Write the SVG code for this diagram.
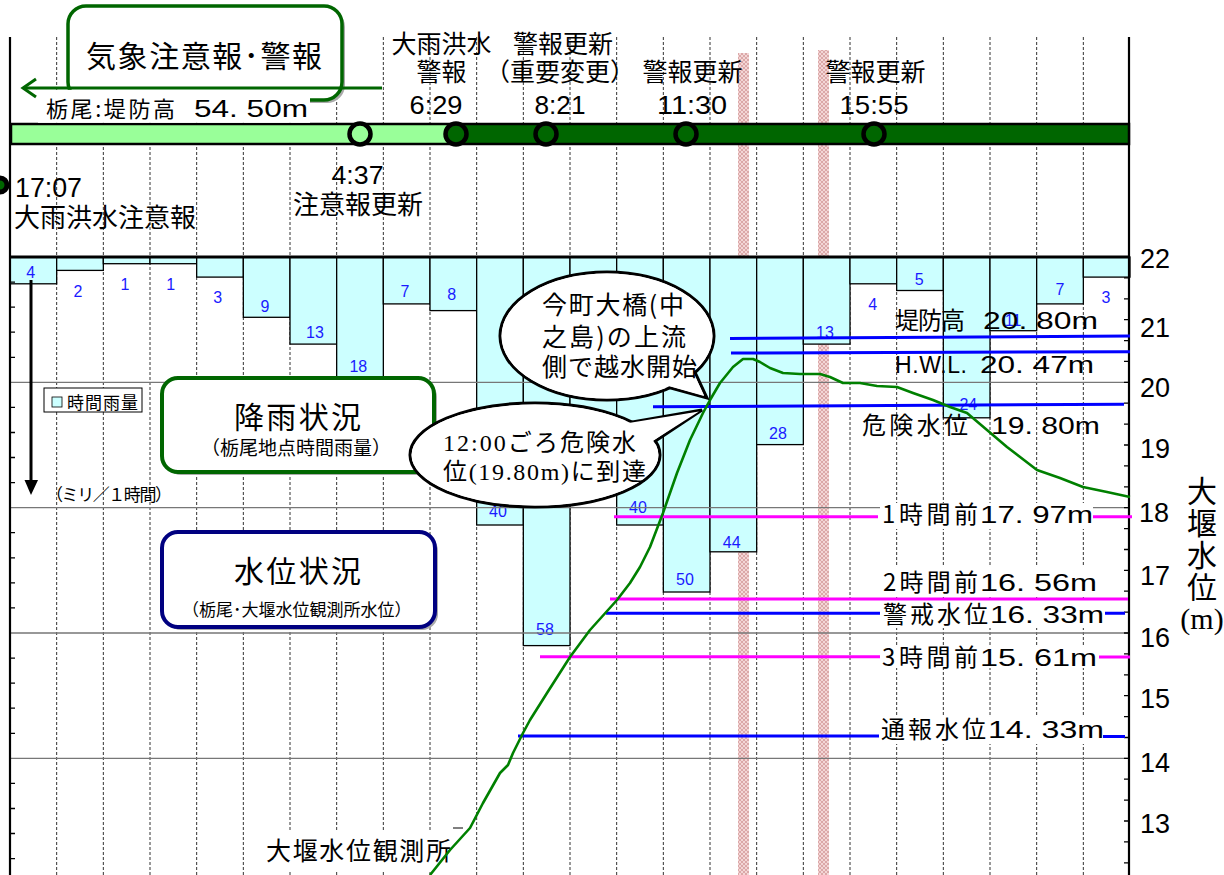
<svg xmlns="http://www.w3.org/2000/svg" width="1224" height="875" viewBox="0 0 1224 875">
<defs>
<pattern id="hatch" width="4" height="4" patternUnits="userSpaceOnUse"><rect width="4" height="4" fill="#F3D6D6"/><path d="M0 0L4 4M4 0L0 4" stroke="#D49C9C" stroke-width="0.8"/></pattern>
<style>
.jp{font-family:"Noto Sans CJK JP","Noto Sans CJK SC",sans-serif;fill:#000}
.ls{font-family:"Liberation Sans","Noto Sans CJK JP",sans-serif;fill:#000}
.sr{font-family:"Liberation Serif","Noto Sans CJK JP",serif;fill:#000}
.bar{fill:#CCFFFF;stroke:#000;stroke-width:1.3}
.bl{font-family:"Liberation Sans",sans-serif;font-size:16px;fill:#1a1aff;text-anchor:middle}
.mid{text-anchor:middle}
.ev{font-size:25px}
.tm{font-size:25px}
.co{fill:#fff;stroke:#000;stroke-width:3}
.blue{stroke:#0000FF;stroke-width:3;fill:none}
.mag{stroke:#FF00FF;stroke-width:3;fill:none}
.lk{font-family:"Noto Sans CJK JP","Noto Sans CJK SC",sans-serif;font-size:24px;fill:#000}
.ln{font-family:"Liberation Sans","Noto Sans CJK JP",sans-serif;font-size:23px;fill:#000}
.rax{font-size:27px}
.wbg{fill:#fff}
</style>
</defs>
<rect width="1224" height="875" fill="#fff"/>

<g id="bands">
<rect x="738" y="53" width="11" height="822" fill="url(#hatch)"/>
<rect x="818" y="50" width="11" height="825" fill="url(#hatch)"/>
</g>

<g id="vgrid" stroke="#333" stroke-width="1" stroke-dasharray="3 2" fill="none">
<path d="M56.67 37V875M103.33 37V875M150 37V875M196.67 37V875M243.33 37V875M290 37V875M336.67 37V875M383.33 37V875M430 37V875M476.67 37V875M523.33 37V875M570 37V875M616.67 37V875M663.33 37V875M710 37V875M756.67 37V875M803.33 37V875M850 37V875M896.67 37V875M943.33 37V875M990 37V875M1036.67 37V875M1083.33 37V875"/>
</g>

<g id="rain-bars">
<rect class="bar" x="10" y="257" width="46.67" height="26.8"/>
<rect class="bar" x="56.67" y="257" width="46.67" height="13.4"/>
<rect class="bar" x="103.33" y="257" width="46.67" height="6.7"/>
<rect class="bar" x="150" y="257" width="46.67" height="6.7"/>
<rect class="bar" x="196.67" y="257" width="46.67" height="20.1"/>
<rect class="bar" x="243.33" y="257" width="46.67" height="60.3"/>
<rect class="bar" x="290" y="257" width="46.67" height="87.1"/>
<rect class="bar" x="336.67" y="257" width="46.67" height="120.6"/>
<rect class="bar" x="383.33" y="257" width="46.67" height="46.9"/>
<rect class="bar" x="430" y="257" width="46.67" height="53.6"/>
<rect class="bar" x="476.67" y="257" width="46.67" height="268"/>
<rect class="bar" x="523.33" y="257" width="46.67" height="388.6"/>
<rect class="bar" x="570" y="257" width="46.67" height="221"/>
<rect class="bar" x="616.67" y="257" width="46.67" height="268"/>
<rect class="bar" x="663.33" y="257" width="46.67" height="335"/>
<rect class="bar" x="710" y="257" width="46.67" height="294.8"/>
<rect class="bar" x="756.67" y="257" width="46.67" height="187.6"/>
<rect class="bar" x="803.33" y="257" width="46.67" height="87.1"/>
<rect class="bar" x="850" y="257" width="46.67" height="26.8"/>
<rect class="bar" x="896.67" y="257" width="46.67" height="33.5"/>
<rect class="bar" x="943.33" y="257" width="46.67" height="160.8"/>
<rect class="bar" x="990" y="257" width="46.67" height="73.7"/>
<rect class="bar" x="1036.67" y="257" width="46.67" height="46.9"/>
<rect class="bar" x="1083.33" y="257" width="46.67" height="20.1"/>
</g>

<g id="rain-values">
<text class="bl" x="30.7" y="278">4</text>
<text class="bl" x="78" y="296.5">2</text>
<text class="bl" x="125" y="290">1</text>
<text class="bl" x="170.7" y="290">1</text>
<text class="bl" x="217.7" y="302.5">3</text>
<text class="bl" x="265" y="311.5">9</text>
<text class="bl" x="315" y="338">13</text>
<text class="bl" x="358.3" y="371.5">18</text>
<text class="bl" x="405" y="296.5">7</text>
<text class="bl" x="451.7" y="300">8</text>
<text class="bl" x="498" y="516.5">40</text>
<text class="bl" x="545" y="635">58</text>
<text class="bl" x="638" y="513">40</text>
<text class="bl" x="685" y="585">50</text>
<text class="bl" x="731.7" y="548">44</text>
<text class="bl" x="778" y="439">28</text>
<text class="bl" x="825" y="338">13</text>
<text class="bl" x="872.7" y="310">4</text>
<text class="bl" x="919.3" y="285">5</text>
<text class="bl" x="968.3" y="410">24</text>
<text class="bl" x="1013" y="326">11</text>
<text class="bl" x="1060" y="295">7</text>
<text class="bl" x="1106" y="303">3</text>
</g>

<g id="hgrid" stroke="#777" stroke-width="1.3">
<path d="M10 382.3H1130M10 507.7H1130M10 633H1130M10 758.3H1130"/>
</g>

<g id="axes" stroke="#000" fill="none">
<path d="M10 37V875" stroke-width="2.2"/>
<path d="M1129 37V875" stroke-width="2.2"/>
<path d="M10 257H1130" stroke-width="3"/>
<path stroke-width="1.3" d="M10 282.1h5M10 307.1h5M10 332.2h5M10 357.3h5M10 407.4h5M10 432.5h5M10 457.5h5M10 482.6h5M10 532.7h5M10 557.8h5M10 582.9h5M10 607.9h5M10 658.1h5M10 683.1h5M10 708.2h5M10 733.3h5M10 783.4h5M10 808.5h5M10 833.5h5M10 858.6h5"/>
<path stroke-width="1.3" d="M1129 277.9h-5M1129 298.8h-5M1129 319.7h-5M1129 340.6h-5M1129 361.4h-5M1129 382.3h-5M1129 403.2h-5M1129 424.1h-5M1129 445h-5M1129 465.9h-5M1129 486.8h-5M1129 507.7h-5M1129 528.6h-5M1129 549.5h-5M1129 570.3h-5M1129 591.2h-5M1129 612.1h-5M1129 633h-5M1129 653.9h-5M1129 674.8h-5M1129 695.7h-5M1129 716.6h-5M1129 737.5h-5M1129 758.3h-5M1129 779.2h-5M1129 800.1h-5M1129 821h-5M1129 841.9h-5M1129 862.8h-5"/>
</g>

<g id="right-axis-labels" class="ls rax">
<text x="1140" y="268">22</text>
<text x="1140" y="337">21</text>
<text x="1140" y="397">20</text>
<text x="1140" y="458">19</text>
<text x="1139" y="521.7">18</text>
<text x="1140" y="585">17</text>
<text x="1140" y="646.7">16</text>
<text x="1140" y="708">15</text>
<text x="1140" y="771.7">14</text>
<text x="1140" y="833">13</text>
</g>
<g id="right-axis-title">
<text class="jp mid" x="1202" y="502" font-size="30">大</text>
<text class="jp mid" x="1202" y="534" font-size="30">堰</text>
<text class="jp mid" x="1202" y="566" font-size="30">水</text>
<text class="jp mid" x="1202" y="598" font-size="30">位</text>
<text class="sr mid" x="1202" y="629" font-size="30">(m)</text>
</g>

<g id="timeline">
<rect x="11" y="124" width="436" height="20" fill="#99FF99"/>
<rect x="447" y="124" width="682" height="20" fill="#006600"/>
<rect x="11" y="124" width="1118" height="20" fill="none" stroke="#000" stroke-width="2.5"/>
<circle cx="360" cy="134" r="10.5" fill="#99FF99" stroke="#000" stroke-width="4.5"/>
<circle cx="456" cy="134" r="10.5" fill="#006600" stroke="#000" stroke-width="4.5"/>
<circle cx="546" cy="134" r="10.5" fill="#006600" stroke="#000" stroke-width="4.5"/>
<circle cx="686" cy="134" r="10.5" fill="#006600" stroke="#000" stroke-width="4.5"/>
<circle cx="874" cy="134" r="10.5" fill="#006600" stroke="#000" stroke-width="4.5"/>
<circle cx="0" cy="185" r="7" fill="#006600" stroke="#000" stroke-width="5"/>
</g>

<g id="event-labels">
<text class="jp ev mid" x="441.5" y="53">大雨洪水</text>
<text class="jp ev mid" x="441.5" y="81">警報</text>
<text class="ls tm mid" x="436" y="114" textLength="53" lengthAdjust="spacingAndGlyphs">6:29</text>
<text class="jp ev mid" x="563" y="53">警報更新</text>
<text class="jp ev mid" x="560" y="81">（重要変更）</text>
<text class="ls tm mid" x="560" y="114" textLength="51" lengthAdjust="spacingAndGlyphs">8:21</text>
<text class="jp ev mid" x="692.5" y="81">警報更新</text>
<text class="ls tm mid" x="692" y="114" textLength="70" lengthAdjust="spacingAndGlyphs">11:30</text>
<text class="jp ev mid" x="875.5" y="81">警報更新</text>
<text class="ls tm mid" x="874" y="114" textLength="69" lengthAdjust="spacingAndGlyphs">15:55</text>
<text class="ls tm mid" x="357.5" y="184" font-size="26" textLength="52" lengthAdjust="spacingAndGlyphs">4:37</text>
<text class="jp mid" x="358" y="214" font-size="26">注意報更新</text>
<text class="ls" x="15" y="197" font-size="27" textLength="67" lengthAdjust="spacingAndGlyphs">17:07</text>
<text class="jp" x="14" y="227" font-size="26">大雨洪水注意報</text>
</g>

<g id="warning-box">
<rect x="71" y="9" width="274" height="94" rx="18" fill="#aaa"/>
<rect x="68" y="6" width="274" height="94" rx="18" fill="#fff" stroke="#006600" stroke-width="3.5"/>
<text class="jp mid" x="204" y="67" font-size="30" textLength="236">気象注意報･警報</text>
<rect x="38" y="89.8" width="272" height="33" class="wbg"/>
<path d="M382 88H24" stroke="#006600" stroke-width="3" fill="none"/>
<path d="M36 79L23 88L36 97" stroke="#006600" stroke-width="3" fill="none"/>
<text class="jp" x="46" y="117" font-size="22" textLength="129">栃尾:堤防高</text>
<text class="ln" x="194" y="117" font-size="23" textLength="114" lengthAdjust="spacingAndGlyphs">54. 50m</text>
</g>

<g id="rain-box">
<rect x="165" y="381" width="272" height="94" rx="16" fill="#aaa"/>
<rect x="162" y="378" width="272" height="94" rx="16" fill="#fff" stroke="#006600" stroke-width="4"/>
<text class="jp mid" x="297.5" y="428" font-size="30" textLength="127">降雨状況</text>
<text class="jp mid" x="296" y="455" font-size="19">（栃尾地点時間雨量）</text>
</g>

<g id="level-box">
<rect x="165" y="535" width="273" height="95" rx="16" fill="#aaa"/>
<rect x="162" y="532" width="273" height="95" rx="16" fill="#fff" stroke="#000080" stroke-width="4"/>
<text class="jp mid" x="297.5" y="582" font-size="30" textLength="127">水位状況</text>
<text class="jp mid" x="296.7" y="616" font-size="17">（栃尾･大堰水位観測所水位）</text>
</g>

<g id="legend">
<rect x="44" y="388" width="98" height="24" fill="#fff" stroke="#000" stroke-width="1"/>
<rect x="52" y="397" width="10" height="10" fill="#CCFFFF" stroke="#000" stroke-width="0.8"/>
<text class="jp" x="67" y="409" font-size="17" textLength="71">時間雨量</text>
<text class="jp" x="46" y="501" font-size="17" textLength="126">（ミリ／１時間）</text>
<path d="M31 280V482" stroke="#000" stroke-width="3"/>
<polygon points="24.5,480 38,480 31,495" fill="#000"/>
</g>

<g id="level-lines">
<path class="blue" d="M730 338.5L1130 336"/>
<path class="blue" d="M731 353L1130 351.7"/>
<path class="blue" d="M653 406.7L1124 404.3"/>
<rect class="wbg" x="880" y="503" width="213" height="26"/>
<path class="mag" d="M614 516.7H878M1093 516.7H1132"/>
<rect class="wbg" x="881" y="566" width="217" height="30"/>
<rect class="wbg" x="881" y="601" width="222" height="27"/>
<path class="mag" d="M610 599H1128"/>
<path class="blue" d="M606 613.3H880M1105 613.3H1125"/>
<rect class="wbg" x="880" y="646" width="218" height="22"/>
<path class="mag" d="M540 656.7H880M1099 657H1130"/>
<rect class="wbg" x="880" y="715" width="223" height="29"/>
<path class="blue" d="M518 736H879M1103 736.5H1125"/>
</g>

<g id="level-labels">
<text class="lk" x="895" y="329" textLength="70">堤防高</text>
<text class="ln" x="983" y="329" textLength="115" lengthAdjust="spacingAndGlyphs">20. 80m</text>
<text class="ln" x="895" y="373" font-size="21" textLength="72">H.W.L.</text>
<text class="ln" x="980" y="373" textLength="114" lengthAdjust="spacingAndGlyphs">20. 47m</text>
<text class="lk" x="862" y="434" font-size="26" textLength="106">危険水位</text>
<text class="ln" x="991" y="434" textLength="109" lengthAdjust="spacingAndGlyphs">19. 80m</text>
<text class="lk" x="882" y="523" textLength="96">1時間前</text>
<text class="ln" x="980" y="523" textLength="113" lengthAdjust="spacingAndGlyphs">17. 97m</text>
<text class="lk" x="883" y="591" textLength="95">2時間前</text>
<text class="ln" x="980" y="591" textLength="117" lengthAdjust="spacingAndGlyphs">16. 56m</text>
<text class="lk" x="883" y="623" textLength="105">警戒水位</text>
<text class="ln" x="990" y="623" textLength="114" lengthAdjust="spacingAndGlyphs">16. 33m</text>
<text class="lk" x="882" y="666" textLength="96">3時間前</text>
<text class="ln" x="980" y="666" textLength="117" lengthAdjust="spacingAndGlyphs">15. 61m</text>
<text class="lk" x="881" y="738" textLength="105">通報水位</text>
<text class="ln" x="988" y="738" textLength="116" lengthAdjust="spacingAndGlyphs">14. 33m</text>
</g>

<g id="station-label">
<rect class="wbg" x="262" y="830" width="188" height="40"/>
<path d="M453 828H463" stroke="#000" stroke-width="1"/>
<text class="jp" x="266" y="860" font-size="25" textLength="185">大堰水位観測所</text>
</g>

<g id="connectors">
<polyline fill="none" stroke="#008000" stroke-width="2.6" stroke-linejoin="round" points="430,875 450,850 470,828 483,803 500,773 508,765 513,753 523,733 530,720 547,693 570,657 590,630 617,600 630,583 640,567 650,547 663,513 677,473 690,440 703,413 710,400 720,383 733,367 743,359 753,359 760,362 770,368 783,373 800,374 820,374 830,377 843,383 860,383 877,386 897,387 913,393 933,400 950,407 967,413 987,430 1007,447 1037,470 1060,478 1083,487 1107,492 1130,497"/>
</g>

<g id="callout-overflow">
<ellipse class="co" cx="607" cy="336" rx="107" ry="64"/>
<polygon class="co" points="660,385 707,398 692,366"/>
<ellipse cx="607" cy="336" rx="105.4" ry="62.4" fill="#fff"/>
<polygon points="661.5,384 704,396 691.5,368" fill="#fff"/>
<text class="jp" x="542" y="314" font-size="25" textLength="142">今町大橋(中</text>
<text class="jp" x="542" y="346" font-size="25" textLength="144">之島)の上流</text>
<text class="jp" x="542" y="376" font-size="25" textLength="155">側で越水開始</text>
</g>

<g id="callout-danger">
<ellipse class="co" cx="535" cy="455" rx="125" ry="52"/>
<polygon class="co" points="615,425 702,410 648,446"/>
<ellipse cx="535" cy="455" rx="123.4" ry="50.4" fill="#fff"/>
<polygon points="616.5,425 699,411.5 647,444.5" fill="#fff"/>
<text class="sr" x="443" y="451" font-size="24" textLength="193">12:00ごろ危険水</text>
<text class="sr" x="443" y="480" font-size="24" textLength="203">位(19.80m)に到達</text>
</g>
</svg>
